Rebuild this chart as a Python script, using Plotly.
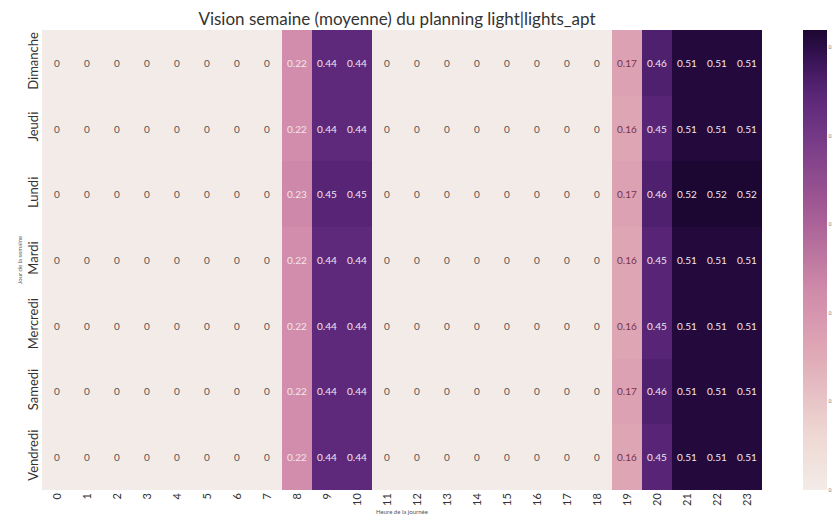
import plotly.graph_objects as go

hours = [str(h) for h in range(24)]
days = ["Dimanche", "Jeudi", "Lundi", "Mardi", "Mercredi", "Samedi", "Vendredi"]

def row(a8, a9, a10, a19, a20, a21, a22, a23):
    return [0]*8 + [a8, a9, a10] + [0]*8 + [a19, a20, a21, a22, a23]

dimanche = row(0.22, 0.44, 0.44, 0.17, 0.46, 0.51, 0.51, 0.51)
jeudi    = row(0.22, 0.44, 0.44, 0.16, 0.45, 0.51, 0.51, 0.51)
lundi    = row(0.23, 0.45, 0.45, 0.17, 0.46, 0.52, 0.52, 0.52)
mardi    = row(0.22, 0.44, 0.44, 0.16, 0.45, 0.51, 0.51, 0.51)
mercredi = row(0.22, 0.44, 0.44, 0.16, 0.45, 0.51, 0.51, 0.51)
samedi   = row(0.22, 0.44, 0.44, 0.17, 0.46, 0.51, 0.51, 0.51)
vendredi = row(0.22, 0.44, 0.44, 0.16, 0.45, 0.51, 0.51, 0.51)
values = [dimanche, jeudi, lundi, mardi, mercredi, samedi, vendredi]

colorscale = [
    [0.0, "#f3ebe7"],
    [0.12, "#eed8d3"],
    [0.3, "#dfa8b6"],
    [0.44, "#cf89a9"],
    [0.6, "#a65c95"],
    [0.75, "#7a3d88"],
    [0.86, "#5a2678"],
    [0.93, "#3a1558"],
    [1.0, "#1c0632"],
]

def fmt(v):
    if v == 0:
        return "0"
    return "%.2g" % v

fig = go.Figure()
fig.add_trace(go.Heatmap(
    z=values, x=hours, y=days,
    colorscale=colorscale, zmin=0, zmax=0.52,
    colorbar=dict(
        x=1.057, xanchor="left", xpad=0, y=0.5, yanchor="middle", len=1.0,
        lenmode="fraction", ypad=0,
        thickness=24, outlinewidth=0,
        tickvals=[0, 0.1, 0.2, 0.3, 0.4, 0.5],
        ticktext=["0.0", "0.1", "0.2", "0.3", "0.4", "0.5"],
        tickfont=dict(size=5, color="#777", family="Lato"),
        ticks="",
    ),
    hoverinfo="z",
))

annotations = []
for d, vals in zip(days, values):
    for h, v in zip(hours, vals):
        color = "#555555" if v < 0.2 else "#f3e6ee"
        if 0.15 < v < 0.2:
            color = "#7a3048"
        annotations.append(dict(
            x=h, y=d, text=fmt(v), showarrow=False,
            font=dict(size=10, color=color, family="Lato"),
        ))

fig.update_layout(
    width=832, height=523,
    margin=dict(l=34, r=78, t=22, b=41, autoexpand=False),
    paper_bgcolor="white", plot_bgcolor="white",
    title=dict(text="Vision semaine (moyenne) du planning light|lights_apt",
               x=0.4675, xanchor="center", y=0.978, yanchor="middle",
               font=dict(size=17, color="#333333", family="Lato")),
    annotations=annotations,
    font=dict(family="Lato"),
)
fig.update_xaxes(
    type="category", tickangle=-90, ticks="", showgrid=False, zeroline=False,
    automargin=False,
    tickfont=dict(size=11, color="#333"),
    title=dict(text="Heure de la journée", font=dict(size=6, color="#555"), standoff=4),
)
fig.update_yaxes(
    type="category", autorange="reversed", tickangle=-90, ticks="", showgrid=False,
    automargin=False,
    zeroline=False, tickfont=dict(size=13, color="#333"),
    title=dict(text="Jour de la semaine", font=dict(size=6, color="#555"), standoff=2),
)

fig.write_html("out.html")
